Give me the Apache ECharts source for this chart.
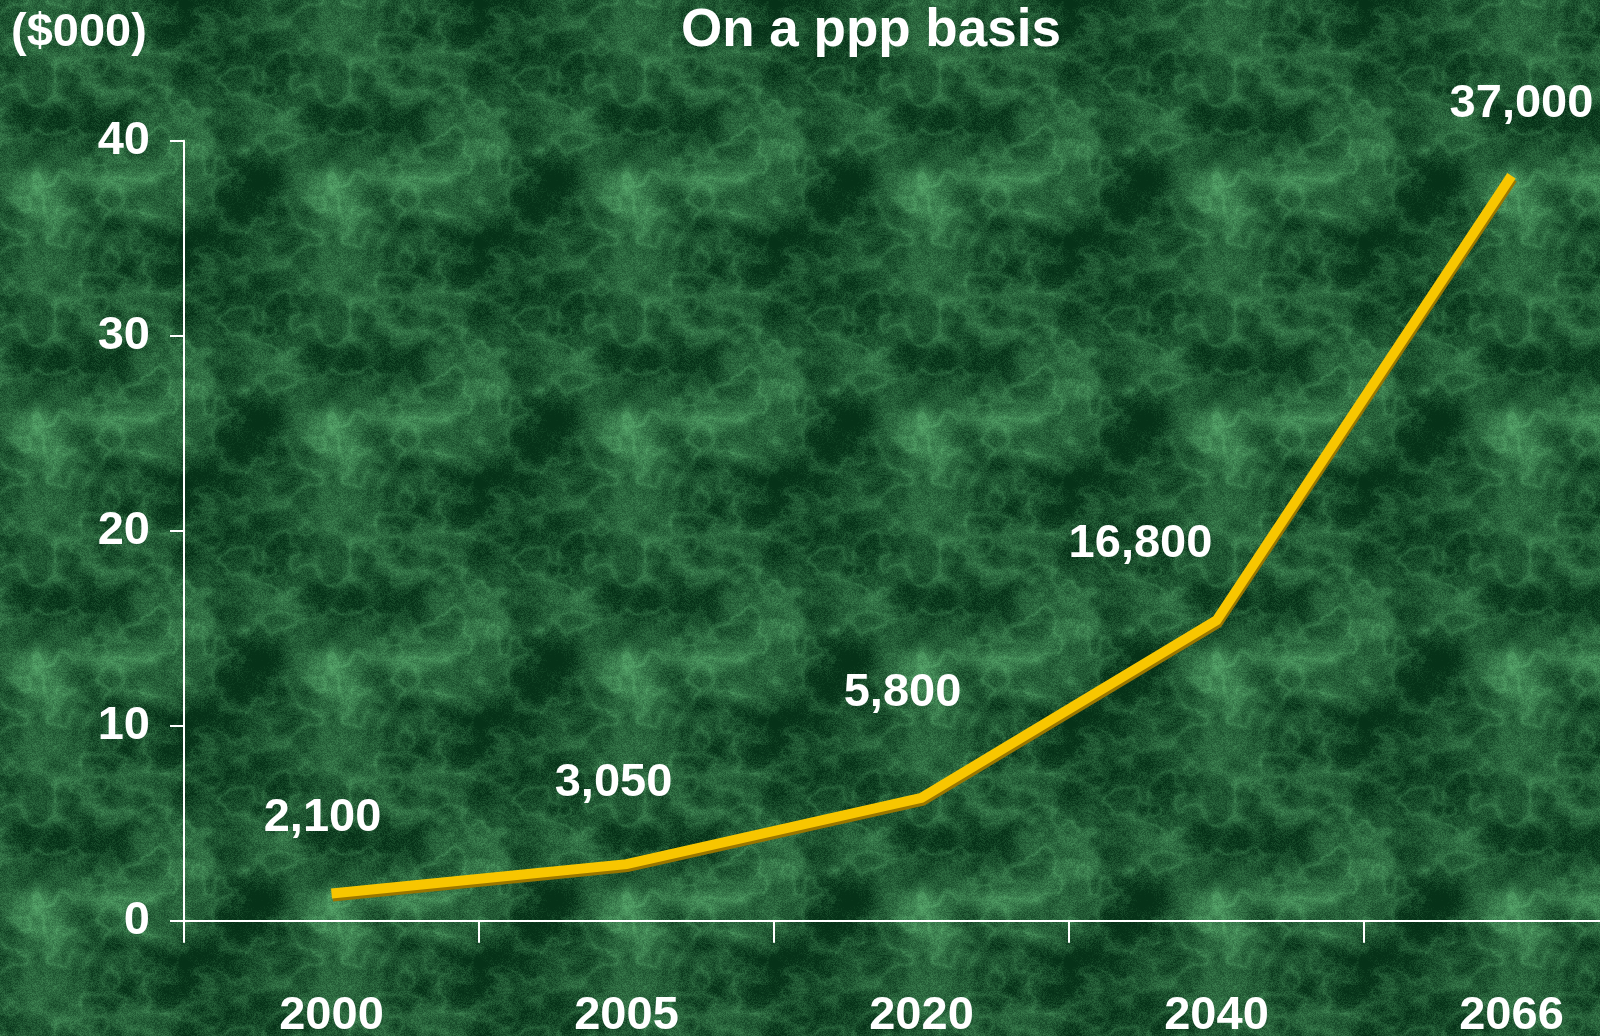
<!DOCTYPE html>
<html>
<head>
<meta charset="utf-8">
<script src="https://cdn.jsdelivr.net/npm/echarts@6/dist/echarts.min.js"></script>
<style>
html,body{margin:0;padding:0;width:1600px;height:1036px;overflow:hidden;background:#1d5636;}
#bg{position:absolute;left:0;top:0;width:1600px;height:1036px;}
#chart{position:absolute;left:0;top:0;width:1700px;height:1036px;}
</style>
</head>
<body>
<div id="bg"></div>
<div id="chart"></div>
<script>
// ---- data ----
const categories = ['2000', '2005', '2020', '2040', '2066'];
const plottedValues = [1.4, 2.9, 6.3, 15.4, 38.2];          // $000, as drawn
const valueLabels = ['2,100', '3,050', '5,800', '16,800', '37,000'];
const yTicks = [0, 10, 20, 30, 40];
const titleText = 'On a ppp basis';
const unitText = '($000)';

// ---- decorative marble background (deterministic noise, not data) ----
(function () {
  const W = 295, H = 240;
  const c = document.createElement('canvas');
  c.width = W; c.height = H;
  const ctx = c.getContext('2d');
  const img = ctx.createImageData(W, H);
  function hash(x, y, s) {
    let h = Math.imul(x, 374761393) ^ Math.imul(y, 668265263) ^ Math.imul(s, 1442695041);
    h = Math.imul(h ^ (h >>> 13), 1274126177);
    h = h ^ (h >>> 16);
    return (h >>> 0) / 4294967295;
  }
  function vnoise(px, py, nx, ny, s) {
    const fx = px / W * nx, fy = py / H * ny;
    const x0 = Math.floor(fx), y0 = Math.floor(fy);
    const tx = fx - x0, ty = fy - y0;
    const sx = tx * tx * (3 - 2 * tx), sy = ty * ty * (3 - 2 * ty);
    const a = hash(x0 % nx, y0 % ny, s), b = hash((x0 + 1) % nx, y0 % ny, s);
    const cc = hash(x0 % nx, (y0 + 1) % ny, s), d = hash((x0 + 1) % nx, (y0 + 1) % ny, s);
    return (a + (b - a) * sx) * (1 - sy) + (cc + (d - cc) * sx) * sy;
  }
  for (let y = 0; y < H; y++) {
    for (let x = 0; x < W; x++) {
      let f = 0, amp = 0.5, tot = 0;
      let n = 4;
      for (let o = 0; o < 6; o++) { f += amp * vnoise(x, y, n, n, o + 1); tot += amp; amp *= 0.6; n *= 2; }
      f /= tot;
      const v2 = vnoise(x, y, 6, 6, 11) * 0.5 + vnoise(x, y, 12, 12, 12) * 0.3 + vnoise(x, y, 24, 24, 13) * 0.2;
      let vein = 1 - Math.abs(2 * v2 - 1);
      vein = Math.pow(vein, 8);
      const grain = hash(x, y, 99) - 0.5;
      let t = (f - 0.3) * 1.3 + vein * 0.3 + grain * 0.3;
      t = Math.max(0, Math.min(1, t));
      const r = 6 + t * 78, g = 50 + t * 112, b = 24 + t * 80;
      const i = (y * W + x) * 4;
      img.data[i] = r; img.data[i + 1] = g; img.data[i + 2] = b; img.data[i + 3] = 255;
    }
  }
  ctx.putImageData(img, 0, 0);
  const bg = document.getElementById('bg');
  bg.style.backgroundImage = 'url(' + c.toDataURL() + ')';
  bg.style.backgroundPosition = '184px 0px';
})();

// ---- chart ----
const labelOffsets = [[-9, -75], [-13, -81], [-19, -105], [-76, -76], [10, -72]];
const FONT = '"Liberation Sans", Arial, sans-serif';

const seriesData = plottedValues.map((v, i) => ({
  value: v,
  label: { offset: labelOffsets[i], formatter: valueLabels[i] }
}));

const chart = echarts.init(document.getElementById('chart'), null, { renderer: 'canvas' });
chart.setOption({
  backgroundColor: 'transparent',
  animation: false,
  grid: { left: 184, top: 140.7, height: 780, width: 1475, containLabel: false, outerBoundsMode: 'none' },
  graphic: [
    { type: 'text', left: 681, top: 5, style: { text: titleText, fill: '#ffffff', font: 'bold 53px ' + FONT } },
    { type: 'text', left: 11, top: 10, style: { text: unitText, fill: '#ffffff', font: 'bold 47px ' + FONT } }
  ],
  xAxis: {
    type: 'category',
    data: categories,
    boundaryGap: true,
    axisLine: { show: true, lineStyle: { color: '#ffffff', width: 2 } },
    axisTick: { show: true, length: 22, inside: false, lineStyle: { color: '#ffffff', width: 2 } },
    axisLabel: { color: '#ffffff', fontSize: 47, fontWeight: 'bold', fontFamily: FONT, margin: 72, interval: 0 },
    splitLine: { show: false }
  },
  yAxis: {
    type: 'value',
    min: yTicks[0],
    max: yTicks[yTicks.length - 1],
    interval: 10,
    axisLine: { show: true, lineStyle: { color: '#ffffff', width: 2 } },
    axisTick: { show: true, length: 14, lineStyle: { color: '#ffffff', width: 2 } },
    axisLabel: { color: '#ffffff', fontSize: 47, fontWeight: 'bold', fontFamily: FONT, margin: 34, padding: [0, 0, 12, 0] },
    splitLine: { show: false }
  },
  series: [{
    type: 'line',
    data: seriesData,
    symbol: 'circle',
    symbolSize: 1,
    showSymbol: true,
    itemStyle: { color: 'rgba(0,0,0,0)' },
    lineStyle: {
      color: '#F8C600', width: 10, cap: 'butt', join: 'miter',
      shadowColor: '#9a7600', shadowBlur: 0, shadowOffsetX: 1, shadowOffsetY: 3
    },
    label: {
      show: true, position: 'inside',
      color: '#ffffff', fontSize: 47, fontWeight: 'bold', fontFamily: FONT
    },
    emphasis: { disabled: true }
  }]
});
</script>
</body>
</html>
